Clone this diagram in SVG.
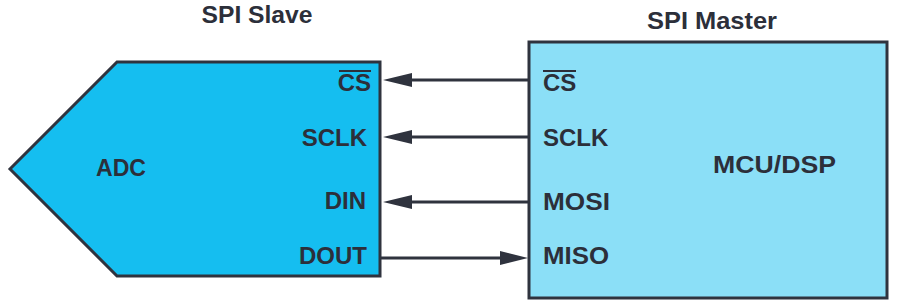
<svg xmlns="http://www.w3.org/2000/svg" width="900" height="304" viewBox="0 0 900 304">
<style>
.t{font-family:"Liberation Sans",Arial,sans-serif;font-weight:bold;font-size:24px;fill:#2c2f3a}
.ttl{font-size:24px}
.sh{stroke:#2f333e;stroke-width:3}
.w{stroke:#2f333e;stroke-width:3;fill:none}
.ah{fill:#2f333e}
.ov{stroke:#2c2f3a;stroke-width:2}
</style>
<rect width="900" height="304" fill="#ffffff"/>
<text class="t ttl" x="257" y="23" text-anchor="middle" textLength="111" lengthAdjust="spacingAndGlyphs">SPI Slave</text>
<text class="t ttl" x="712" y="29" text-anchor="middle" textLength="130" lengthAdjust="spacingAndGlyphs">SPI Master</text>
<g id="adc">
<polygon class="sh" points="117,62 380,62 380,276 117,276 10,169" fill="#15bef0"/>
<text class="t" x="96" y="176" textLength="50" lengthAdjust="spacingAndGlyphs">ADC</text>
<text class="t" x="371" y="91" text-anchor="end">CS</text>
<line class="ov" x1="339" y1="71" x2="371" y2="71"/>
<text class="t" x="367" y="146" text-anchor="end">SCLK</text>
<text class="t" x="366" y="209" text-anchor="end">DIN</text>
<text class="t" x="367" y="264" text-anchor="end">DOUT</text>
</g>
<g id="mcu">
<rect class="sh" x="529" y="42" width="358" height="256" fill="#8bdff7"/>
<text class="t" x="543" y="91">CS</text>
<line class="ov" x1="543" y1="71" x2="576" y2="71"/>
<text class="t" x="543" y="146">SCLK</text>
<text class="t" x="543" y="210" textLength="67" lengthAdjust="spacingAndGlyphs">MOSI</text>
<text class="t" x="543" y="264" textLength="66" lengthAdjust="spacingAndGlyphs">MISO</text>
<text class="t" x="713" y="173" textLength="123" lengthAdjust="spacingAndGlyphs">MCU/DSP</text>
</g>
<g id="connectors">
<line class="w" x1="529" y1="80" x2="395" y2="80"/>
<path class="ah" d="M383,80 L412,73 L412,87 Z"/>
<line class="w" x1="529" y1="137" x2="395" y2="137"/>
<path class="ah" d="M383,137 L412,130 L412,144 Z"/>
<line class="w" x1="529" y1="202" x2="395" y2="202"/>
<path class="ah" d="M383,202 L412,195 L412,209 Z"/>
<line class="w" x1="380" y1="258" x2="515" y2="258"/>
<path class="ah" d="M528,258 L500,251 L500,265 Z"/>
</g>
</svg>
